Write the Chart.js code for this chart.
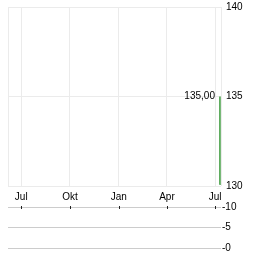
<!DOCTYPE html>
<html>
<head>
<meta charset="utf-8">
<script src="https://cdn.jsdelivr.net/npm/chart.js@4.4.1/dist/chart.umd.min.js"></script>
<style>
  html, body { margin: 0; padding: 0; background: #fff; }
  #wrap { position: relative; width: 264px; height: 255px; overflow: hidden; }
  #kurs { position: absolute; left: 0; top: -4px; }
  #umsatz { position: absolute; left: 0; top: 200px; }
</style>
</head>
<body>
<div id="wrap">
  <canvas id="kurs" width="264" height="210"></canvas>
  <canvas id="umsatz" width="264" height="55"></canvas>
</div>
<script>
// Tage ab 1. Juli (Vorjahr)
const monatTage = [0, 92, 184, 275, 366];
const monatLabels = ['Jul', 'Okt', 'Jan', 'Apr', 'Jul'];
const xMin = -25, xMax = 377;

// Kursverlauf
const kursTage = [374, 375];
const kursWerte = [130.1, 135.0];
const letzterKurs = '135,00';

// Umsatz (leer)
const umsatzTicks = [0, 5, 10];

const schrift = { family: 'Liberation Sans, Arial, sans-serif', size: 10 };

// Kurslabel links vom letzten Punkt
const kursLabel = {
  id: 'kursLabel',
  afterDatasetsDraw(chart) {
    const { ctx, scales } = chart;
    const n = kursTage.length - 1;
    const x = scales.x.getPixelForValue(kursTage[n]);
    const y = scales.y.getPixelForValue(kursWerte[n]);
    ctx.save();
    ctx.font = '10px Liberation Sans, Arial, sans-serif';
    ctx.fillStyle = '#000';
    ctx.textAlign = 'right';
    ctx.textBaseline = 'middle';
    ctx.fillText(letzterKurs, x - 5, y);
    ctx.restore();
  }
};

new Chart(document.getElementById('kurs').getContext('2d'), {
  type: 'line',
  data: {
    datasets: [{
      data: kursTage.map((t, i) => ({ x: t, y: kursWerte[i] })),
      borderColor: '#3c9a3c',
      borderWidth: 1.5,
      pointRadius: 0,
      tension: 0
    }]
  },
  options: {
    responsive: false,
    animation: false,
    layout: { padding: { left: 8, top: 3, right: 0, bottom: 0 } },
    plugins: { legend: { display: false }, tooltip: { enabled: false } },
    scales: {
      x: {
        type: 'linear',
        min: xMin,
        max: xMax,
        afterBuildTicks: s => { s.ticks = [xMin, ...monatTage, xMax].map(v => ({ value: v })); },
        afterFit: s => { s.height = 20; },
        ticks: {
          autoSkip: false,
          maxRotation: 0,
          padding: 5,
          color: '#000',
          font: schrift,
          callback: v => { const i = monatTage.indexOf(v); return i < 0 ? '' : monatLabels[i]; }
        },
        grid: { color: '#ebebeb', drawTicks: false },
        border: { display: false }
      },
      y: {
        position: 'right',
        min: 130,
        max: 140,
        afterFit: s => { s.width = 43; },
        ticks: { stepSize: 5, padding: 5, color: '#000', font: schrift },
        grid: { color: '#ebebeb', drawTicks: false },
        border: { display: false }
      }
    }
  },
  plugins: [kursLabel]
});

// kleine Striche an den Monaten
const monatStriche = {
  id: 'monatStriche',
  afterDraw(chart) {
    const { ctx, scales, chartArea } = chart;
    ctx.save();
    ctx.strokeStyle = '#222';
    ctx.lineWidth = 1;
    monatTage.forEach(t => {
      const x = Math.round(scales.x.getPixelForValue(t)) + 0.5;
      ctx.beginPath();
      ctx.moveTo(x, chartArea.top - 1);
      ctx.lineTo(x, chartArea.top + 2);
      ctx.stroke();
    });
    ctx.restore();
  }
};

new Chart(document.getElementById('umsatz').getContext('2d'), {
  type: 'line',
  data: { datasets: [{ data: [] }] },
  options: {
    responsive: false,
    animation: false,
    layout: { padding: { left: 8, top: 3, right: 0, bottom: 4 } },
    plugins: { legend: { display: false }, tooltip: { enabled: false } },
    scales: {
      x: {
        type: 'linear',
        min: xMin,
        max: xMax,
        offset: false,
        display: false
      },
      y: {
        position: 'right',
        min: 0,
        max: 10,
        afterFit: s => { s.width = 43; },
        afterBuildTicks: s => { s.ticks = umsatzTicks.map(v => ({ value: v })); },
        ticks: { padding: 1, color: '#000', font: schrift, callback: v => '-' + v },
        grid: { color: '#cccccc', drawTicks: false },
        border: { display: false }
      }
    }
  },
  plugins: [monatStriche]
});
</script>
</body>
</html>
